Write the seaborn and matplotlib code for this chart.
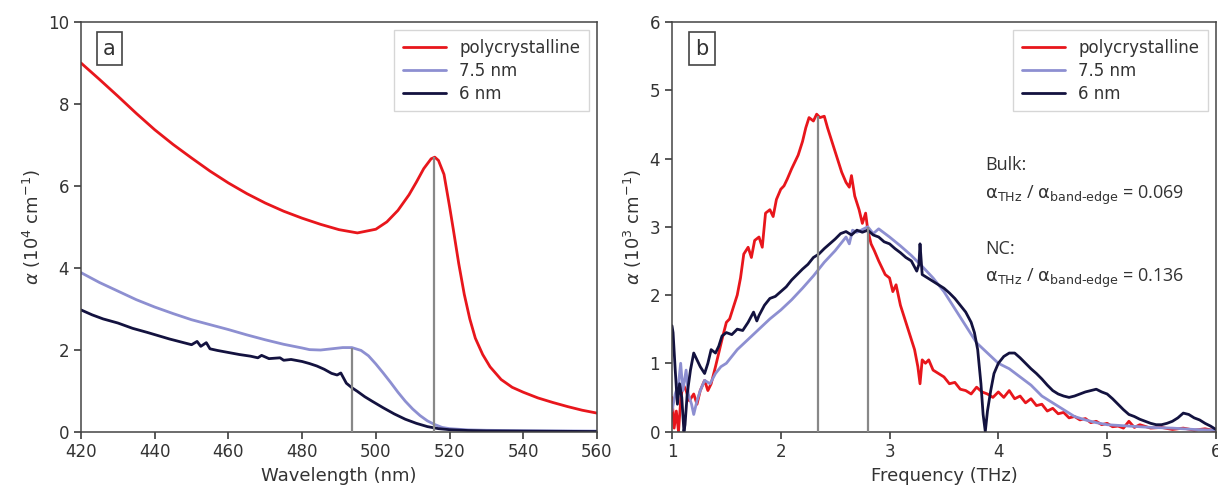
import numpy as np
import pandas as pd
import matplotlib
matplotlib.use("Agg")
import matplotlib.pyplot as plt
import seaborn as sns

# ---------------- data: panel a (UV-vis absorption) ----------------
wl_poly = [420, 425, 430, 435, 440, 445, 450, 455, 460, 465, 470, 475, 480, 485, 490, 495, 500,
           503, 506, 509, 511, 513, 515, 516, 517, 518.5, 520, 521, 522.5, 524, 525.5, 527, 529,
           531, 534, 537, 540, 544, 548, 552, 556, 560]
a_poly = [9.0, 8.6, 8.19, 7.77, 7.37, 7.01, 6.68, 6.36, 6.07, 5.81, 5.58, 5.38, 5.21, 5.06, 4.93, 4.85, 4.94,
          5.12, 5.40, 5.78, 6.09, 6.42, 6.66, 6.70, 6.62, 6.28, 5.50, 4.95, 4.10, 3.35, 2.75, 2.28, 1.88,
          1.58, 1.27, 1.08, 0.96, 0.82, 0.71, 0.61, 0.52, 0.45]

wl_75 = [420, 425, 430, 435, 440, 445, 450, 455, 460, 465, 470, 475, 480, 482, 485, 488, 491, 493.5,
         496, 498, 500, 502, 504, 506, 508, 510, 512, 514, 516, 518, 520, 525, 530, 540, 550, 560]
a_75 = [3.88, 3.64, 3.43, 3.22, 3.04, 2.88, 2.73, 2.61, 2.49, 2.36, 2.24, 2.13, 2.04, 2.00, 1.99, 2.02, 2.05, 2.05,
        1.98, 1.85, 1.65, 1.43, 1.20, 0.96, 0.74, 0.55, 0.39, 0.26, 0.17, 0.10, 0.07, 0.04, 0.03, 0.02, 0.015, 0.01]

wl_6 = [420, 423, 426, 430, 434, 438, 441, 444, 447, 450, 451.5, 452.5, 454, 455, 457, 460, 463, 466,
        468, 469, 471, 474, 475, 477, 480, 482, 484, 486, 488, 489.5, 490.5, 492, 493.5, 495, 497,
        499, 502, 505, 508, 511, 514, 517, 520, 525, 530, 540, 550, 560]
a_6 = [2.97, 2.85, 2.75, 2.65, 2.52, 2.42, 2.34, 2.26, 2.19, 2.12, 2.20, 2.08, 2.17, 2.02, 1.98, 1.93, 1.88, 1.84,
       1.80, 1.86, 1.78, 1.80, 1.74, 1.76, 1.71, 1.66, 1.60, 1.52, 1.42, 1.38, 1.43, 1.18, 1.07, 0.98, 0.85,
       0.74, 0.58, 0.43, 0.30, 0.20, 0.12, 0.07, 0.045, 0.025, 0.015, 0.01, 0.005, 0.0]

vline_a_x = [493.5, 515.8]
vline_a_top = [2.05, 6.70]

# ---------------- data: panel b (THz absorption) ----------------
f_poly = [1.00, 1.02, 1.04, 1.06, 1.08, 1.10, 1.13, 1.16, 1.20, 1.23, 1.26, 1.30, 1.33, 1.36, 1.40, 1.43,
          1.46, 1.50, 1.53, 1.56, 1.60, 1.63, 1.66, 1.70, 1.73, 1.76, 1.80, 1.83, 1.86, 1.90, 1.93, 1.96,
          2.00, 2.03, 2.06, 2.10, 2.13, 2.16, 2.20, 2.23, 2.26, 2.30, 2.33, 2.36, 2.40, 2.43, 2.46, 2.50,
          2.53, 2.56, 2.60, 2.63, 2.65, 2.68, 2.72, 2.75, 2.78, 2.80, 2.83, 2.86, 2.90, 2.93, 2.96, 3.00,
          3.03, 3.06, 3.10, 3.13, 3.16, 3.20, 3.23, 3.26, 3.28, 3.30, 3.33, 3.36, 3.40, 3.45, 3.50, 3.55,
          3.60, 3.65, 3.70, 3.75, 3.80, 3.85, 3.90, 3.95, 4.00, 4.05, 4.10, 4.15, 4.20, 4.25, 4.30, 4.35,
          4.40, 4.45, 4.50, 4.55, 4.60, 4.65, 4.70, 4.75, 4.80, 4.85, 4.90, 4.95, 5.00, 5.05, 5.10, 5.15,
          5.20, 5.25, 5.30, 5.40, 5.50, 5.60, 5.70, 5.80, 5.90, 6.00]
b_poly = [0.50, 0.05, 0.30, 0.00, 0.45, 0.70, 0.60, 0.45, 0.55, 0.40, 0.60, 0.75, 0.60, 0.70, 0.95, 1.15,
          1.35, 1.60, 1.65, 1.80, 2.00, 2.25, 2.60, 2.70, 2.55, 2.80, 2.85, 2.70, 3.20, 3.25, 3.15, 3.40,
          3.55, 3.60, 3.70, 3.85, 3.95, 4.05, 4.25, 4.45, 4.60, 4.55, 4.65, 4.60, 4.62, 4.45, 4.30, 4.10,
          3.95, 3.80, 3.65, 3.58, 3.75, 3.45, 3.25, 3.05, 3.20, 2.95, 2.75, 2.65, 2.50, 2.40, 2.30, 2.25,
          2.05, 2.15, 1.85, 1.70, 1.55, 1.35, 1.20, 0.95, 0.70, 1.05, 1.00, 1.05, 0.90, 0.85, 0.80, 0.70,
          0.72, 0.62, 0.60, 0.55, 0.65, 0.58, 0.55, 0.50, 0.58, 0.50, 0.60, 0.48, 0.52, 0.42, 0.48, 0.38,
          0.40, 0.30, 0.34, 0.26, 0.28, 0.20, 0.22, 0.17, 0.19, 0.13, 0.15, 0.10, 0.12, 0.07, 0.08, 0.05,
          0.15, 0.06, 0.10, 0.05, 0.06, 0.03, 0.05, 0.02, 0.04, 0.01]

f_75 = [1.00, 1.03, 1.06, 1.08, 1.10, 1.13, 1.15, 1.18, 1.20, 1.23, 1.26, 1.30, 1.35, 1.40, 1.45, 1.50,
        1.60, 1.70, 1.80, 1.90, 2.00, 2.10, 2.20, 2.30, 2.40, 2.50, 2.60, 2.63, 2.66, 2.70, 2.80, 2.85,
        2.90, 3.00, 3.10, 3.20, 3.30, 3.40, 3.50, 3.60, 3.70, 3.80, 3.90, 4.00, 4.10, 4.20, 4.30, 4.40,
        4.50, 4.60, 4.70, 4.80, 4.90, 5.00, 5.20, 5.40, 5.60, 5.80, 6.00]
b_75 = [0.30, 0.55, 0.70, 1.00, 0.60, 0.90, 0.55, 0.40, 0.25, 0.45, 0.60, 0.75, 0.70, 0.85, 0.95, 1.00,
        1.20, 1.35, 1.50, 1.65, 1.78, 1.93, 2.10, 2.28, 2.48, 2.65, 2.85, 2.75, 2.95, 2.92, 3.00, 2.90,
        2.97, 2.85, 2.72, 2.58, 2.42, 2.25, 2.05, 1.80, 1.55, 1.30, 1.15, 1.00, 0.92, 0.80, 0.68, 0.52,
        0.42, 0.32, 0.22, 0.17, 0.13, 0.10, 0.08, 0.06, 0.05, 0.03, 0.02]

f_6 = [1.00, 1.01, 1.03, 1.05, 1.07, 1.09, 1.11, 1.12, 1.14, 1.17, 1.20, 1.23, 1.26, 1.30, 1.33, 1.36,
       1.40, 1.43, 1.46, 1.50, 1.55, 1.60, 1.65, 1.70, 1.75, 1.78, 1.80, 1.85, 1.90, 1.95, 2.00, 2.05,
       2.10, 2.15, 2.20, 2.25, 2.30, 2.35, 2.40, 2.45, 2.50, 2.55, 2.60, 2.65, 2.70, 2.75, 2.80, 2.85,
       2.90, 2.95, 3.00, 3.05, 3.10, 3.15, 3.20, 3.25, 3.27, 3.28, 3.30, 3.35, 3.40, 3.45, 3.50, 3.55,
       3.60, 3.65, 3.70, 3.75, 3.78, 3.81, 3.84, 3.86, 3.88, 3.90, 3.93, 3.96, 4.00, 4.05, 4.10, 4.15,
       4.20, 4.25, 4.30, 4.35, 4.40, 4.45, 4.50, 4.55, 4.60, 4.65, 4.70, 4.75, 4.80, 4.85, 4.90, 4.95,
       5.00, 5.05, 5.10, 5.15, 5.20, 5.25, 5.30, 5.35, 5.40, 5.45, 5.50, 5.55, 5.60, 5.65, 5.70, 5.75,
       5.80, 5.85, 5.90, 5.95, 6.00]
b_6 = [1.55, 1.45, 0.90, 0.40, 0.70, 0.50, 0.00, 0.10, 0.55, 0.90, 1.15, 1.05, 0.95, 0.85, 1.00, 1.20,
       1.15, 1.25, 1.40, 1.45, 1.42, 1.50, 1.48, 1.60, 1.75, 1.62, 1.70, 1.85, 1.95, 1.98, 2.05, 2.12,
       2.22, 2.30, 2.38, 2.45, 2.55, 2.60, 2.68, 2.75, 2.82, 2.90, 2.93, 2.88, 2.95, 2.92, 2.95, 2.88,
       2.85, 2.78, 2.75, 2.68, 2.62, 2.55, 2.50, 2.35, 2.45, 2.75, 2.30, 2.25, 2.20, 2.15, 2.10, 2.03,
       1.95, 1.85, 1.75, 1.60, 1.45, 1.20, 0.70, 0.25, 0.00, 0.30, 0.60, 0.85, 1.00, 1.10, 1.15, 1.15,
       1.08, 1.00, 0.92, 0.85, 0.77, 0.68, 0.60, 0.55, 0.52, 0.50, 0.52, 0.55, 0.58, 0.60, 0.62, 0.58,
       0.55, 0.48, 0.40, 0.32, 0.25, 0.22, 0.18, 0.15, 0.12, 0.10, 0.10, 0.12, 0.15, 0.20, 0.27, 0.25,
       0.20, 0.17, 0.12, 0.08, 0.03]

vline_b_x = [2.34, 2.80]
vline_b_top = [4.62, 3.00]

series_labels = ["polycrystalline", "7.5 nm", "6 nm"]
colors = ["#e8161c", "#8d8fd1", "#13123f"]

# ---------------- style ----------------
sns.set_theme(style="ticks")
plt.rcParams.update({
    "font.family": ["DejaVu Sans"],
    "axes.edgecolor": "#444444",
    "axes.linewidth": 1.1,
    "xtick.color": "#444444",
    "ytick.color": "#444444",
    "xtick.labelcolor": "#333333",
    "ytick.labelcolor": "#333333",
    "axes.labelcolor": "#333333",
    "xtick.labelsize": 12,
    "ytick.labelsize": 12,
    "xtick.major.size": 5,
    "ytick.major.size": 5,
})

fig = plt.figure(figsize=(12.18, 4.93), dpi=100)
ax1 = fig.add_axes([0.0665, 0.1247, 0.4236, 0.8306])
ax2 = fig.add_axes([0.5517, 0.1247, 0.4466, 0.8306])

lw = 2.0
dfa = [pd.DataFrame({"x": wl_poly, "y": a_poly}),
       pd.DataFrame({"x": wl_75, "y": a_75}),
       pd.DataFrame({"x": wl_6, "y": a_6})]
for df, lab, c in zip(dfa, series_labels, colors):
    sns.lineplot(data=df, x="x", y="y", ax=ax1, color=c, lw=lw, label=lab)
ax1.vlines(vline_a_x, 0, vline_a_top, color="#888888", lw=1.6, zorder=3)

dfb = [pd.DataFrame({"x": f_poly, "y": b_poly}),
       pd.DataFrame({"x": f_75, "y": b_75}),
       pd.DataFrame({"x": f_6, "y": b_6})]
for df, lab, c in zip(dfb, series_labels, colors):
    sns.lineplot(data=df, x="x", y="y", ax=ax2, color=c, lw=lw, label=lab)
ax2.vlines(vline_b_x, 0, vline_b_top, color="#888888", lw=1.6, zorder=3)

ax1.set_xlim(420, 560)
ax1.set_ylim(0, 10)
ax1.set_xticks(np.arange(420, 561, 20))
ax1.set_yticks(np.arange(0, 11, 2))
ax1.set_xlabel("Wavelength (nm)", fontsize=13)
ax1.set_ylabel(r"$\alpha$ (10$^4$ cm$^{-1}$)", fontsize=13)

ax2.set_xlim(1, 6)
ax2.set_ylim(0, 6)
ax2.set_xticks(np.arange(1, 7, 1))
ax2.set_yticks(np.arange(0, 7, 1))
ax2.set_xlabel("Frequency (THz)", fontsize=13)
ax2.set_ylabel(r"$\alpha$ (10$^3$ cm$^{-1}$)", fontsize=13)

for ax, letter in [(ax1, "a"), (ax2, "b")]:
    for s in ax.spines.values():
        s.set_visible(True)
    leg = ax.legend(loc="upper right", fontsize=12, frameon=True, handlelength=2.6,
                    borderpad=0.5, labelspacing=0.3, fancybox=False)
    leg.get_frame().set_edgecolor("#cccccc")
    for t in leg.get_texts():
        t.set_color("#333333")
    ax.text(0.055, 0.935, letter, transform=ax.transAxes, fontsize=15, color="#333333",
            ha="center", va="center",
            bbox=dict(boxstyle="square,pad=0.3", fc="white", ec="#444444", lw=1.2))

ann_font = "Open Sans"
ax2.text(3.88, 3.90, "Bulk:", fontsize=13, family=ann_font, color="#333333", va="center")
ax2.text(3.88, 3.46, r"$\mathrm{\alpha}_{\mathrm{THz}}$ / $\mathrm{\alpha}_{\mathrm{band‐edge}}$ = 0.069",
         fontsize=13, family=ann_font, color="#333333", va="center")
ax2.text(3.88, 2.68, "NC:", fontsize=13, family=ann_font, color="#333333", va="center")
ax2.text(3.88, 2.24, r"$\mathrm{\alpha}_{\mathrm{THz}}$ / $\mathrm{\alpha}_{\mathrm{band‐edge}}$ = 0.136",
         fontsize=13, family=ann_font, color="#333333", va="center")

fig.savefig("out.png", dpi=100)
